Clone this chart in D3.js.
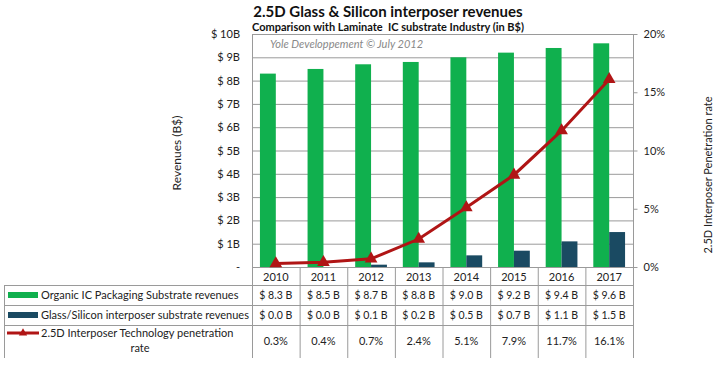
<!DOCTYPE html>
<html><head><meta charset="utf-8">
<script src="https://cdn.jsdelivr.net/npm/d3@7"></script>
<style>body{margin:0;background:#fff}svg{display:block;font-family:Lato,"Open Sans",sans-serif}</style>
</head><body><svg id="c" width="720" height="374"></svg>
<script>
const years = ["2010","2011","2012","2013","2014","2015","2016","2017"];
const organic = [8.3, 8.5, 8.7, 8.8, 9.0, 9.2, 9.4, 9.6];
const interposer = [0.0, 0.0, 0.1, 0.2, 0.5, 0.7, 1.1, 1.5];
const penetration = [0.3, 0.4, 0.7, 2.4, 5.1, 7.9, 11.7, 16.1];
const leftTicks = [0,1,2,3,4,5,6,7,8,9,10];
const rightTicks = [0,5,10,15,20];
const seriesNames = ["Organic IC Packaging Substrate revenues","Glass/Silicon interposer substrate revenues","2.5D Interposer Technology penetration rate"];

const C_GREEN="#10b04e", C_DARK="#1a4a62", C_RED="#b01515", C_GRID="#9a9a9a";
const svg=d3.select("#c");
const L=252,R=633,T=34,B=267;
const x=d3.scaleBand().domain(years).range([L,R]).padding(0);
const xs=d3.scaleBand().domain(["o","i"]).range([0,x.bandwidth()]).paddingInner(0).paddingOuter(0.5);
const y=d3.scaleLinear().domain([0,10]).range([B,T]);
const y2=d3.scaleLinear().domain([0,20]).range([B,T]);

// gridlines
svg.append("g").selectAll("line").data(leftTicks).join("line")
  .attr("x1",L).attr("x2",R).attr("y1",d=>y(d)+0.5).attr("y2",d=>y(d)+0.5)
  .attr("stroke",C_GRID).attr("stroke-width",1);
svg.append("rect").attr("x",L+0.5).attr("y",T+0.5).attr("width",R-L).attr("height",B-T)
  .attr("fill","none").attr("stroke",C_GRID);

// left axis
const ya=d3.axisLeft(y).tickValues(leftTicks).tickSize(0).tickPadding(12)
  .tickFormat(d=>d===0?"-":"$ "+d+"B");
const gL=svg.append("g").attr("transform",`translate(${L},0)`).call(ya);
gL.select(".domain").remove();
gL.selectAll("text").attr("font-size",11).attr("fill","#222").attr("font-family","Lato,sans-serif");

// right axis
const ya2=d3.axisRight(y2).tickValues(rightTicks).tickSize(4).tickPadding(6).tickFormat(d=>d+"%");
const gR=svg.append("g").attr("transform",`translate(${R+0.5},0)`).call(ya2);
gR.select(".domain").remove();
gR.selectAll("line").attr("stroke",C_GRID);
gR.selectAll("text").attr("font-size",11).attr("fill","#222").attr("font-family","Lato,sans-serif");

// bars
svg.append("g").selectAll("rect").data(organic).join("rect")
  .attr("x",(d,i)=>x(years[i])+xs("o")).attr("width",xs.bandwidth())
  .attr("y",d=>y(d)).attr("height",d=>y(0)-y(d)).attr("fill",C_GREEN);
svg.append("g").selectAll("rect").data(interposer).join("rect")
  .attr("x",(d,i)=>x(years[i])+xs("i")).attr("width",xs.bandwidth())
  .attr("y",d=>y(d)).attr("height",d=>y(0)-y(d)).attr("fill",C_DARK);

// line
const line=d3.line().x((d,i)=>x(years[i])+x.bandwidth()/2).y(d=>y2(d));
svg.append("path").datum(penetration).attr("d",line).attr("fill","none")
  .attr("stroke",C_RED).attr("stroke-width",3);
const tri=d3.symbol().type(d3.symbolTriangle).size(70);
svg.append("g").selectAll("path").data(penetration).join("path")
  .attr("d",tri).attr("transform",(d,i)=>`translate(${x(years[i])+x.bandwidth()/2},${y2(d)})`)
  .attr("fill",C_RED);

// titles
svg.append("text").attr("x",388).attr("y",17).attr("text-anchor","middle")
  .attr("font-size",15).attr("font-weight","bold").attr("fill","#111").text("2.5D Glass & Silicon interposer revenues");
svg.append("text").attr("x",388).attr("y",31).attr("text-anchor","middle")
  .attr("font-size",11).attr("font-weight","bold").attr("fill","#111").text("Comparison with Laminate  IC substrate Industry (in B$)")
  .style("white-space","pre");
svg.append("text").attr("x",270).attr("y",48)
  .attr("font-size",11).attr("font-style","italic").attr("fill","#888").text("Yole Developpement © July 2012");

// axis titles
svg.append("text").attr("transform","translate(181,153) rotate(-90)").attr("text-anchor","middle")
  .attr("font-size",12).attr("fill","#222").text("Revenues (B$)");
svg.append("text").attr("transform","translate(712,175) rotate(-90)").attr("text-anchor","middle")
  .attr("font-size",11).attr("fill","#222").text("2.5D Interposer Penetration rate");

// table
const TL=4, rowY=[285,305,325,358];
const tg=svg.append("g").attr("stroke",C_GRID).attr("stroke-width",1);
// header verticals
const edges=years.map(d=>x(d)).concat([R]);
edges.forEach(e=>{
  tg.append("line").attr("x1",e+0.5).attr("x2",e+0.5).attr("y1",B).attr("y2",rowY[3]);
});
tg.append("line").attr("x1",TL+0.5).attr("x2",TL+0.5).attr("y1",rowY[0]).attr("y2",rowY[3]);
[rowY[0],rowY[1],rowY[2]].forEach(yy=>{
  tg.append("line").attr("x1",TL).attr("x2",R+1).attr("y1",yy+0.5).attr("y2",yy+0.5);
});

const tx=svg.append("g").attr("font-size",11).attr("fill","#222").attr("text-anchor","middle");
tx.selectAll(".yr").data(years).join("text").attr("class","yr")
  .attr("x",d=>x(d)+x.bandwidth()/2).attr("y",281).text(d=>d);
tx.selectAll(".r1").data(organic).join("text").attr("class","r1")
  .attr("x",(d,i)=>x(years[i])+x.bandwidth()/2).attr("y",299).attr("font-size",10.5)
  .text(d=>"$ "+d.toFixed(1)+" B");
tx.selectAll(".r2").data(interposer).join("text").attr("class","r2")
  .attr("x",(d,i)=>x(years[i])+x.bandwidth()/2).attr("y",319).attr("font-size",10.5)
  .text(d=>"$ "+d.toFixed(1)+" B");
tx.selectAll(".r3").data(penetration).join("text").attr("class","r3")
  .attr("x",(d,i)=>x(years[i])+x.bandwidth()/2).attr("y",345)
  .text(d=>d.toFixed(1)+"%");

// legend keys in table
svg.append("rect").attr("x",8).attr("y",292).attr("width",30).attr("height",6).attr("fill",C_GREEN);
svg.append("rect").attr("x",8).attr("y",312).attr("width",30).attr("height",6).attr("fill",C_DARK);
svg.append("line").attr("x1",7).attr("x2",39).attr("y1",333).attr("y2",333).attr("stroke",C_RED).attr("stroke-width",3);
svg.append("path").attr("d",d3.symbol().type(d3.symbolTriangle).size(30)).attr("transform","translate(23,333)").attr("fill",C_RED);
const lt=svg.append("g").attr("font-size",11).attr("fill","#222");
lt.append("text").attr("x",41).attr("y",299).text(seriesNames[0]);
lt.append("text").attr("x",41).attr("y",319).text(seriesNames[1]);
lt.append("text").attr("x",41).attr("y",337).text("2.5D Interposer Technology penetration");
lt.append("text").attr("x",140).attr("y",352).attr("text-anchor","middle").text("rate");
</script></body></html>
